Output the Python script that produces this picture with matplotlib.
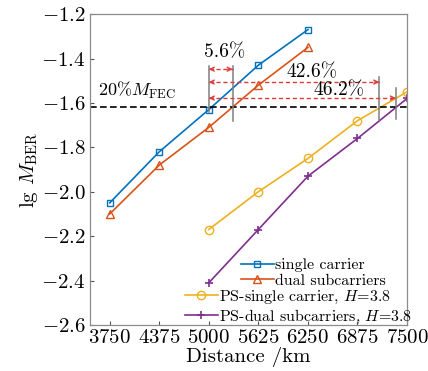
"""BER vs distance: single carrier / dual subcarriers, with and without PS."""

import matplotlib
matplotlib.use('Agg')
import matplotlib.pyplot as plt

plt.rcParams['font.family'] = 'cmr10'
plt.rcParams['mathtext.fontset'] = 'cm'
plt.rcParams['axes.formatter.use_mathtext'] = True
plt.rcParams['axes.unicode_minus'] = True

# --- data ---
dist_sc = [3750, 4375, 5000, 5625, 6250]
ber_single = [-2.05, -1.82, -1.63, -1.43, -1.27]
ber_dual = [-2.10, -1.88, -1.71, -1.52, -1.35]

dist_ps = [5000, 5625, 6250, 6875, 7500]
ber_ps_single = [-2.17, -2.00, -1.85, -1.68, -1.55]
ber_ps_dual = [-2.41, -2.17, -1.93, -1.76, -1.58]

fec_level = -1.62
cross_x = [5000, 5300, 7150, 7360]          # grey markers where curves hit FEC
cross_top = [-1.434, -1.434, -1.484, -1.533]
cross_bot = [-1.641, -1.682, -1.677, -1.673]
gain_labels = ['5.6%', '42.6%', '46.2%']
gain_arrow_y = [-1.448, -1.506, -1.578]
gain_text_xy = [(5200, -1.37), (6300, -1.461), (6640, -1.542)]

xticks = [3750, 4375, 5000, 5625, 6250, 6875, 7500]
yticks = [-2.6, -2.4, -2.2, -2.0, -1.8, -1.6, -1.4, -1.2]

c_blue, c_red, c_yel, c_pur = '#0072BD', '#D95319', '#EDB120', '#7E2F8E'
c_arrow = '#E23A3A'

fig = plt.figure(figsize=(4.28, 3.71), dpi=100)
ax = fig.add_axes([0.210, 0.124, 0.741, 0.838])

l1, = ax.plot(dist_sc, ber_single, '-s', color=c_blue, lw=1.2, ms=4.5,
              mfc='none', mew=1.0, label='single carrier')
l2, = ax.plot(dist_sc, ber_dual, '-^', color=c_red, lw=1.2, ms=6,
              mfc='none', mew=1.0, label='dual subcarriers')
l3, = ax.plot(dist_ps, ber_ps_single, '-o', color=c_yel, lw=1.2, ms=6,
              mfc='none', mew=1.0, label='PS-single carrier, $H$=3.8')
l4, = ax.plot(dist_ps, ber_ps_dual, '-+', color=c_pur, lw=1.2, ms=6,
              mew=1.2, label='PS-dual subcarriers, $H$=3.8')

ax.axhline(fec_level, color='k', ls='--', lw=1.2, dashes=(4, 2))
ax.text(3600, -1.545, r'20%$M_{\rm FEC}$', fontsize=13, va='center')

for x, yt, yb in zip(cross_x, cross_top, cross_bot):
    ax.plot([x, x], [yb, yt], color='#7f7f7f', lw=1.1)

for x_end, y in zip(cross_x[1:], gain_arrow_y):
    ax.plot([cross_x[0], x_end], [y, y], color=c_arrow, ls='--', lw=1.0,
            dashes=(3, 2))
    for tip, tail in ((cross_x[0], cross_x[0] + 60), (x_end, x_end - 60)):
        ax.annotate('', xy=(tip, y), xytext=(tail, y),
                    arrowprops=dict(arrowstyle='->', color=c_arrow, lw=1.0,
                                    mutation_scale=7, shrinkA=0, shrinkB=0))

for lab, (tx, ty) in zip(gain_labels, gain_text_xy):
    ax.text(tx, ty, lab, fontsize=14, ha='center', va='center')

ax.set_xlim(3500, 7500)
ax.set_ylim(-2.6, -1.2)
ax.set_xticks(xticks)
ax.set_yticks(yticks)
ax.yaxis.set_major_formatter(matplotlib.ticker.FormatStrFormatter(r'$%.1f$'))
ax.xaxis.set_major_formatter(matplotlib.ticker.FormatStrFormatter(r'$%d$'))
ax.tick_params(direction='in', length=3, labelsize=15, color='#555555',
               pad=3)
for s in ax.spines.values():
    s.set_color('#8c8c8c')
    s.set_linewidth(0.9)

ax.set_xlabel('Distance /km', fontsize=15, labelpad=0)
ax.set_ylabel(r'lg $M_{\rm BER}$', fontsize=15, labelpad=1)

leg_kw = dict(loc='upper left', frameon=False, bbox_transform=fig.transFigure,
              fontsize=11.5, handlelength=2.05, handletextpad=0.1,
              labelspacing=0.1, borderpad=0, borderaxespad=0)
leg1 = ax.legend(handles=[l1, l2], bbox_to_anchor=(241 / 428, 1 - 258 / 371),
                 **leg_kw)
ax.add_artist(leg1)
ax.legend(handles=[l3, l4], bbox_to_anchor=(185 / 428, 1 - 289 / 371),
          **leg_kw)

fig.savefig('out.png', dpi=100)
